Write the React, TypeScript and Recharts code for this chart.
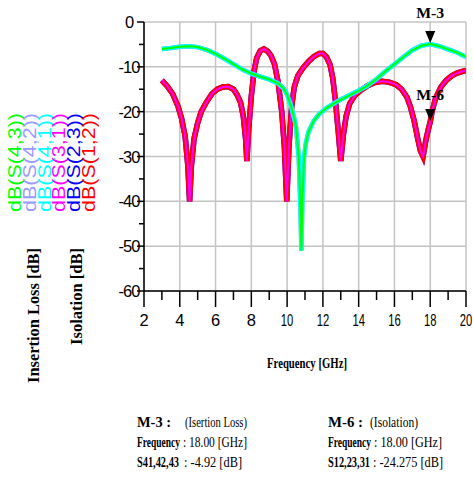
import { LineChart, Line, XAxis, YAxis, CartesianGrid, ReferenceDot } from 'recharts';

// isolation: S12, S23, S31 (all on top of each other)
const ISO_FREQ = [
  3.0, 3.3, 3.6, 3.9, 4.1, 4.3, 4.45, 4.55, 4.65, 4.8, 5.0, 5.2, 5.5, 5.8, 6.1, 6.4, 6.7, 7.0, 7.2, 7.4,
  7.55, 7.68, 7.75, 7.85, 8.0, 8.15, 8.3, 8.5, 8.7, 8.9, 9.1, 9.3, 9.5, 9.7, 9.85, 9.98, 10.1, 10.25, 10.4,
  10.6, 10.9, 11.2, 11.5, 11.8, 12.0, 12.2, 12.4, 12.55, 12.7, 12.85, 13.0, 13.15, 13.3, 13.5, 13.8, 14.1,
  14.5, 14.9, 15.3, 15.7, 16.1, 16.4, 16.7, 16.9, 17.1, 17.3, 17.45, 17.6, 17.75, 17.9, 18.0, 18.1, 18.3,
  18.6, 18.9, 19.2, 19.5, 19.8, 20.0,
];
const ISO_DB = [
  -13, -14.3, -16, -18.8, -21.5, -25.5, -32, -40, -32, -26, -22.5, -20, -17.8, -16, -15, -14.5, -14.4, -15,
  -16.2, -18, -21, -26, -31, -24, -16.5, -11, -8, -6.4, -6, -6.5, -7.5, -9.5, -13.5, -20, -28, -40, -28,
  -19, -14.5, -12, -10.2, -8.8, -7.7, -7, -7, -7.8, -9.5, -12.5, -17.5, -24, -31, -25, -21, -18.2, -16.3,
  -15.3, -14.2, -13.5, -13.2, -13.4, -14, -15, -16.8, -19, -22, -26, -28.7, -30, -26.5, -23.8, -22.3, -20,
  -17, -14.5, -13, -12, -11.4, -11, -10.8,
];

// insertion loss: S41, S42, S43
const IL_FREQ = [
  3.0, 3.5, 4.0, 4.5, 5.0, 5.5, 6.0, 6.5, 7.0, 7.5, 8.0, 8.5, 9.0, 9.5, 9.8, 10.0, 10.2, 10.4, 10.5, 10.65,
  10.75, 10.8, 10.85, 10.95, 11.05, 11.2, 11.5, 11.8, 12.2, 12.6, 13.0, 13.5, 14.0, 14.5, 15.0, 15.5, 16.0,
  16.5, 17.0, 17.5, 18.0, 18.5, 19.0, 19.5, 20.0,
];
const IL_DB = [
  -6.0, -5.8, -5.5, -5.4, -5.6, -6.2, -7.1, -8.2, -9.4, -10.6, -11.5, -12.2, -12.8, -13.7, -14.8, -16.2,
  -18.5, -21.5, -23.5, -30, -42, -51, -40, -30, -27, -24.5, -22, -20.5, -19.2, -18.2, -17.3, -16.3, -15.3,
  -14.2, -12.7, -11, -9.4, -7.8, -6.3, -5.3, -4.9, -5.4, -6.1, -6.8, -7.8,
];

const X_TICKS = [2, 3, 4, 5, 6, 7, 8, 9, 10, 11, 12, 13, 14, 15, 16, 17, 18, 19, 20];
const X_GRID = [2, 4, 6, 8, 10, 12, 14, 16, 18, 20];
const Y_TICKS = [-60, -55, -50, -45, -40, -35, -30, -25, -20, -15, -10, -5, 0];
const Y_GRID = [-60, -50, -40, -30, -20, -10, 0];

const MARKER_FREQ = 18;
const M3_DB = -4.92;
const M6_DB = -22.3;

const Y_LABELS = ['dB(S(4,3))', 'dB(S(4,2))', 'dB(S(4,1))', 'dB(S(3,1))', 'dB(S(2,3))', 'dB(S(1,2))'];
const Y_LABEL_COLORS = ['#00ff00', '#9a9aff', '#00ffff', '#ff00ff', '#0000ff', '#ff0000'];

const isoData = ISO_FREQ.map((f, i) => ({ f, v: ISO_DB[i] }));
const ilData = IL_FREQ.map((f, i) => ({ f, v: IL_DB[i] }));

const SANS = 'Liberation Sans, Arial, sans-serif';
const SERIF = 'Liberation Serif, Times New Roman, serif';

function XTick(props: any) {
  const { x, y, payload } = props;
  const v = payload.value;
  const major = v % 2 === 0;
  const s = String(v);
  return (
    <g>
      <line x1={x} x2={x} y1={y} y2={y + (major ? 16 : 9)} stroke="#000" strokeWidth={1.5} />
      {major && (
        <text
          x={x}
          y={y + 35}
          textAnchor="middle"
          fontFamily={SANS}
          fontSize={16.5}
          fill="#000"
          {...(s.length > 1 ? { textLength: 12.5, lengthAdjust: 'spacingAndGlyphs' } : {})}
        >
          {s}
        </text>
      )}
    </g>
  );
}

function YTick(props: any) {
  const { x, y, payload } = props;
  const v = payload.value;
  const major = v % 10 === 0;
  return (
    <g>
      <line x1={x} x2={x - (major ? 7 : 5)} y1={y} y2={y} stroke="#000" strokeWidth={1.5} />
      {major && (
        <text x={x - 15} y={y + 6} textAnchor="middle" fontFamily={SANS} fontSize={16.5} letterSpacing={-1} fill="#000">
          {v}
        </text>
      )}
    </g>
  );
}

function Marker(props: any) {
  const { cx, cy, name, dy } = props;
  return (
    <g>
      <polygon points={`${cx - 5},${cy - 13} ${cx + 5},${cy - 13} ${cx},${cy - 1}`} fill="#000" />
      <text
        x={cx}
        y={cy + dy}
        textAnchor="middle"
        fontFamily={SERIF}
        fontWeight="bold"
        fontSize={15}
        textLength={28}
        lengthAdjust="spacingAndGlyphs"
        fill="#000"
      >
        {name}
      </text>
    </g>
  );
}

// one line of the marker readout: bold head + plain tail, squeezed like the original
function Readout(props: { x: number; y: number; head: string; hw: number; tx: number; tail: string; tw: number }) {
  return (
    <text y={props.y} fontFamily={SERIF} fontSize={14} fill="#000">
      <tspan x={props.x} fontWeight="bold" textLength={props.hw} lengthAdjust="spacingAndGlyphs">
        {props.head}
      </tspan>
      <tspan x={props.tx} textLength={props.tw} lengthAdjust="spacingAndGlyphs">
        {props.tail}
      </tspan>
    </text>
  );
}

export default function App() {
  return (
    <div style={{ position: 'absolute', left: 0, top: 0, width: 473, height: 478, background: '#fff' }}>
      <LineChart width={473} height={478} margin={{ top: 22, right: 7, bottom: 157, left: 104 }}>
        <CartesianGrid
          stroke="#c4c4c4"
          strokeWidth={1.5}
          horizontalValues={Y_GRID}
          verticalValues={X_GRID}
        />
        <XAxis
          type="number"
          dataKey="f"
          domain={[2, 20]}
          ticks={X_TICKS}
          interval={0}
          height={30}
          tickSize={0}
          tickMargin={0}
          tickLine={false}
          axisLine={{ stroke: '#000', strokeWidth: 1.5 }}
          tick={(p: any) => <XTick {...p} />}
          allowDataOverflow
        />
        <YAxis
          type="number"
          domain={[-60, 0]}
          ticks={Y_TICKS}
          interval={0}
          width={40}
          tickSize={0}
          tickMargin={0}
          tickLine={false}
          axisLine={{ stroke: '#000', strokeWidth: 1.5 }}
          tick={(p: any) => <YTick {...p} />}
          allowDataOverflow
        />
        <Line data={isoData} dataKey="v" stroke="#0000ff" strokeWidth={5.5} dot={false} isAnimationActive={false} />
        <Line data={isoData} dataKey="v" stroke="#ff0000" strokeWidth={5.5} dot={false} isAnimationActive={false} />
        <Line data={isoData} dataKey="v" stroke="#ff00ff" strokeWidth={2} dot={false} isAnimationActive={false} />
        <Line data={ilData} dataKey="v" stroke="#9a9aff" strokeWidth={4.5} dot={false} isAnimationActive={false} />
        <Line data={ilData} dataKey="v" stroke="#00ffff" strokeWidth={4.5} dot={false} isAnimationActive={false} />
        <Line data={ilData} dataKey="v" stroke="#00ff00" strokeWidth={2} dot={false} isAnimationActive={false} />
        <ReferenceDot
          x={MARKER_FREQ}
          y={M3_DB}
          r={0}
          ifOverflow="visible"
          shape={(p: any) => <Marker cx={p.cx} cy={p.cy} name="M-3" dy={-26} />}
        />
        <ReferenceDot
          x={MARKER_FREQ}
          y={M6_DB}
          r={0}
          ifOverflow="visible"
          shape={(p: any) => <Marker cx={p.cx} cy={p.cy} name="M-6" dy={-22} />}
        />
      </LineChart>
      <svg
        width={473}
        height={478}
        style={{ position: 'absolute', left: 0, top: 0, pointerEvents: 'none' }}
      >
        {Y_LABELS.map((t, i) => (
          <text
            key={t}
            transform={`translate(${21 + 14.8 * i},162.5) rotate(-90)`}
            textAnchor="middle"
            fontFamily={SANS}
            fontSize={17.5}
            textLength={99}
            lengthAdjust="spacingAndGlyphs"
            fill={Y_LABEL_COLORS[i]}
          >
            {t}
          </text>
        ))}
        <text
          transform="translate(39,315.5) rotate(-90)"
          textAnchor="middle"
          fontFamily={SERIF}
          fontWeight="bold"
          fontSize={16.5}
          textLength={135}
          lengthAdjust="spacingAndGlyphs"
        >
          Insertion Loss [dB]
        </text>
        <text
          transform="translate(82,296.5) rotate(-90)"
          textAnchor="middle"
          fontFamily={SERIF}
          fontWeight="bold"
          fontSize={16.5}
          textLength={97}
          lengthAdjust="spacingAndGlyphs"
        >
          Isolation [dB]
        </text>
        <text
          x={307}
          y={368}
          textAnchor="middle"
          fontFamily={SERIF}
          fontWeight="bold"
          fontSize={15}
          textLength={80}
          lengthAdjust="spacingAndGlyphs"
        >
          Frequency [GHz]
        </text>

        <Readout x={137} y={426.5} head="M-3 :" hw={34} tx={185} tail="(Isertion Loss)" tw={62} />
        <Readout x={137} y={446.5} head="Frequency" hw={43} tx={183} tail=": 18.00 [GHz]" tw={64} />
        <Readout x={137} y={466.5} head="S41,42,43" hw={42} tx={184} tail=": -4.92 [dB]" tw={58} />

        <Readout x={328} y={426.5} head="M-6 :" hw={35} tx={370} tail="(Isolation)" tw={48} />
        <Readout x={328} y={446.5} head="Frequency" hw={43} tx={374} tail=": 18.00 [GHz]" tw={68} />
        <Readout x={328} y={466.5} head="S12,23,31" hw={42} tx={373} tail=": -24.275 [dB]" tw={70} />
      </svg>
    </div>
  );
}
